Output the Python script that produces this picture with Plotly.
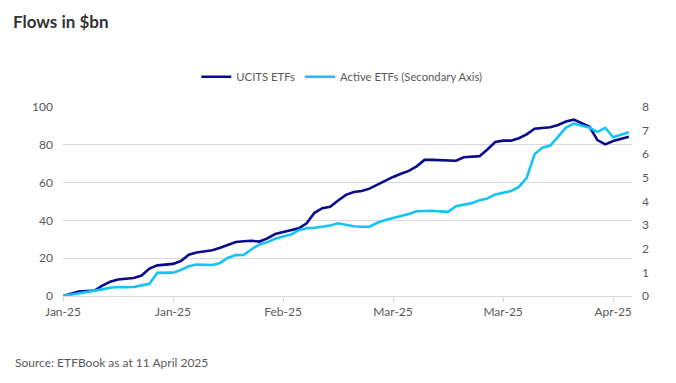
import plotly.graph_objects as go

# Data (business-day index)
tick_positions = [0, 14, 28, 42, 56, 70]
tick_labels = ["Jan-25", "Jan-25", "Feb-25", "Mar-25", "Mar-25", "Apr-25"]

ucits_etfs = [
    0, 1.2, 2.3, 2.6, 2.9, 5.5, 7.5, 8.7, 9.1, 9.5,
    10.8, 14.5, 16.2, 16.5, 17.0, 18.5, 21.8, 23.0, 23.6, 24.2,
    25.5, 27.0, 28.6, 29.0, 29.2, 28.8, 30.5, 32.8, 33.8, 34.5,
    35.8, 38.5, 44.0, 46.5, 47.2, 50.5, 53.5, 55.0, 55.6, 56.8,
    59.0, 61.0, 63.0, 64.7, 66.2, 68.6, 72.0, 72.0, 71.9, 71.8,
    71.6, 73.4, 73.6, 74.0, 77.5, 81.5, 82.2, 82.2, 83.5, 85.5,
    88.5, 89.0, 89.3, 90.5, 92.3, 93.3, 91.5, 89.5, 82.5, 80.2,
    82.0, 83.0, 84.2,
]

active_etfs = [
    0, 0.05, 0.1, 0.15, 0.2, 0.28, 0.35, 0.38, 0.37, 0.38,
    0.45, 0.52, 0.98, 1.0, 0.99, 1.1, 1.26, 1.33, 1.32, 1.31,
    1.4, 1.62, 1.73, 1.74, 1.98, 2.18, 2.28, 2.42, 2.52, 2.6,
    2.78, 2.87, 2.89, 2.93, 2.98, 3.08, 3.0, 2.95, 2.93, 2.93,
    3.1, 3.22, 3.3, 3.38, 3.47, 3.59, 3.61, 3.61, 3.58, 3.56,
    3.8, 3.85, 3.93, 4.05, 4.13, 4.3, 4.38, 4.44, 4.62, 5.0,
    6.0, 6.28, 6.37, 6.75, 7.13, 7.3, 7.22, 7.12, 6.95, 7.12,
    6.72, 6.82, 6.93,
]

x_idx = list(range(len(ucits_etfs)))

NAVY = "#0a0a8c"
CYAN = "#15c3f5"
GRID = "#d9d9d9"
TXT = "#595959"
FONT = "Lato"

# page body has an 8px margin; figure drawn at 668x375 to fit the 676x383 window
W, H = 668, 375

fig = go.Figure()
fig.add_trace(go.Scatter(
    x=x_idx, y=ucits_etfs, name="UCITS ETFs", mode="lines",
    line=dict(color=NAVY, width=2.6), yaxis="y",
))
fig.add_trace(go.Scatter(
    x=x_idx, y=active_etfs, name="Active ETFs (Secondary Axis)", mode="lines",
    line=dict(color=CYAN, width=2.6), yaxis="y2",
))

fig.update_layout(
    width=W, height=H,
    margin=dict(l=55, r=44, t=99, b=87),
    paper_bgcolor="white", plot_bgcolor="white",
    font=dict(family=FONT, size=12, color=TXT),
    title=dict(text="<b>Flows in $bn</b>", x=5 / W, xref="container",
               y=1 - 14 / H, yref="container", yanchor="middle", xanchor="left",
               font=dict(family=FONT, size=17, color="#333333")),
    showlegend=True,
    legend=dict(orientation="h", x=0.49, xanchor="center", y=1.16, yanchor="middle",
                font=dict(size=11.3, color=TXT), itemwidth=30,
                bgcolor="rgba(0,0,0,0)"),
    xaxis=dict(
        range=[0, 72.4], tickmode="array", tickvals=tick_positions, ticktext=tick_labels,
        showgrid=False, zeroline=False, showline=True, linecolor=GRID, linewidth=1,
        ticks="outside", ticklen=5, tickcolor=GRID, tickfont=dict(size=12, color=TXT),
    ),
    yaxis=dict(
        range=[0, 100], tickmode="array", tickvals=[0, 20, 40, 60, 80, 100],
        showgrid=True, gridcolor=GRID, gridwidth=1, zeroline=False,
        ticks="", tickfont=dict(size=12, color=TXT), ticklabelstandoff=9,
    ),
    yaxis2=dict(
        range=[0, 8], tickmode="array", tickvals=list(range(9)),
        overlaying="y", side="right", showgrid=False, zeroline=False,
        ticks="", tickfont=dict(size=12, color=TXT), ticklabelstandoff=9,
    ),
    annotations=[dict(
        text="Source: ETFBook as at 11 April 2025", xref="paper", yref="paper",
        x=(13 - 63) / 569, y=(296 - 362) / 189, xanchor="left", yanchor="middle",
        showarrow=False, font=dict(family=FONT, size=12, color=TXT),
    )],
)

fig.write_html("out.html")
